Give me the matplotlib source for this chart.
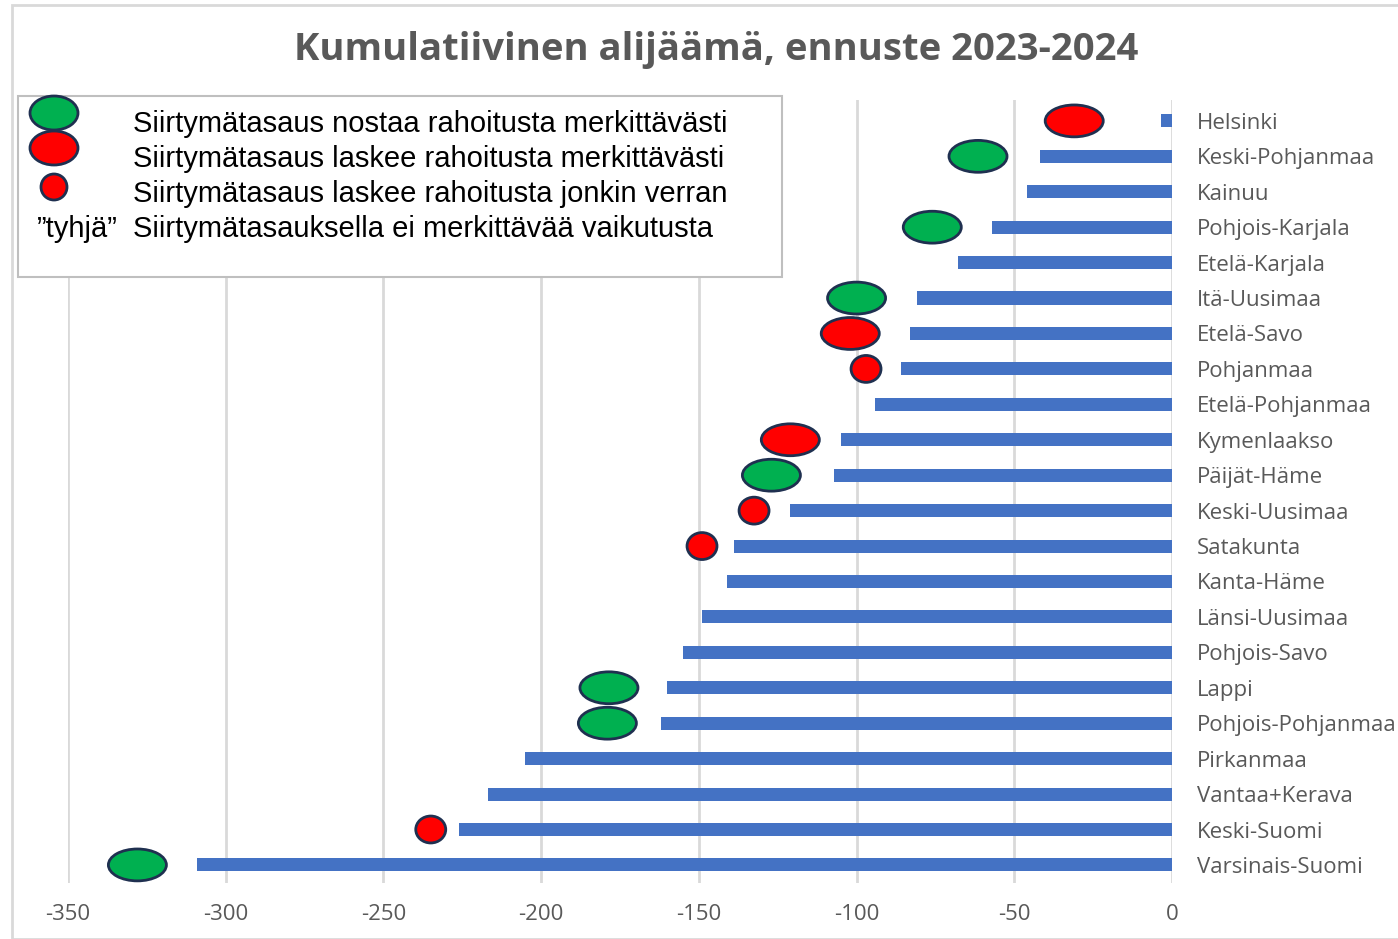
import matplotlib
matplotlib.use("Agg")
import matplotlib.pyplot as plt
from matplotlib.patches import Ellipse, Rectangle

# data
regions = [
    "Helsinki", "Keski-Pohjanmaa", "Kainuu", "Pohjois-Karjala", "Etelä-Karjala",
    "Itä-Uusimaa", "Etelä-Savo", "Pohjanmaa", "Etelä-Pohjanmaa", "Kymenlaakso",
    "Päijät-Häme", "Keski-Uusimaa", "Satakunta", "Kanta-Häme", "Länsi-Uusimaa",
    "Pohjois-Savo", "Lappi", "Pohjois-Pohjanmaa", "Pirkanmaa", "Vantaa+Kerava",
    "Keski-Suomi", "Varsinais-Suomi",
]
deficit = [
    -3.5, -42, -46, -57, -68, -81, -83, -86, -94, -105, -107, -121,
    -139, -141, -149, -155, -160, -162, -205, -217, -226, -309,
]
x_ticks = [-350, -300, -250, -200, -150, -100, -50, 0]

# siirtymätasaus markers: region, x-position, type
marker_region = [
    "Helsinki", "Keski-Pohjanmaa", "Pohjois-Karjala", "Itä-Uusimaa", "Etelä-Savo",
    "Pohjanmaa", "Kymenlaakso", "Päijät-Häme", "Keski-Uusimaa", "Satakunta",
    "Lappi", "Pohjois-Pohjanmaa", "Keski-Suomi", "Varsinais-Suomi",
]
marker_x = [-31, -61.5, -76, -100, -102, -97, -121, -127, -132.5, -149, -178.5, -179, -235, -328]
marker_type = ["down", "up", "up", "up", "down", "some", "down", "up", "some", "some",
               "up", "up", "some", "up"]

legend_text = [
    "Siirtymätasaus nostaa rahoitusta merkittävästi",
    "Siirtymätasaus laskee rahoitusta merkittävästi",
    "Siirtymätasaus laskee rahoitusta jonkin verran",
    "Siirtymätasauksella ei merkittävää vaikutusta",
]

GREEN = "#00B050"
RED = "#FF0000"
EDGE = "#1F3050"
GRID = "#D9D9D9"
TXT = "#595959"
W, H = 1398, 939

styles = {
    "up": (GREEN, 18.4, 0.90),
    "down": (RED, 18.4, 0.90),
    "some": (RED, 9.5, 0.76),
}

fig = plt.figure(figsize=(W / 100, H / 100), dpi=100)

# chart area border
fig.patches.append(Rectangle((12 / W, 0), 1.2, 1 - 5 / H, transform=fig.transFigure,
                             fill=False, edgecolor=GRID, lw=2))

ax = fig.add_axes([68 / W, 1 - 883 / H, (1172 - 68) / W, (883 - 100) / H])
y = list(range(len(regions)))
ax.barh(y, deficit, height=0.37, color="#4472C4", zorder=2)

for name, xv, kind in zip(marker_region, marker_x, marker_type):
    col, ew, eh = styles[kind]
    ax.add_patch(Ellipse((xv, regions.index(name)), ew, eh, facecolor=col,
                         edgecolor=EDGE, lw=2, zorder=3))

ax.set_xlim(-350, 0)
ax.set_ylim(len(regions) - 1 + 0.51, -0.59)
ax.set_xticks(x_ticks)
ax.set_xticklabels([str(v) for v in x_ticks], fontsize=16, color=TXT, family="Open Sans")
ax.set_yticks(y)
ax.set_yticklabels(regions, fontsize=16, color=TXT, family="Open Sans")
ax.yaxis.tick_right()
ax.tick_params(axis="y", length=0, pad=18)
ax.tick_params(axis="x", length=0, pad=15)
ax.grid(axis="x", color=GRID, lw=2, zorder=0)
for s in ax.spines.values():
    s.set_visible(False)

fig.text(716 / W, 1 - 50 / H, "Kumulatiivinen alijäämä, ennuste 2023-2024",
         ha="center", va="center", fontsize=27.5, fontweight="bold", color=TXT,
         family="Open Sans")

# legend box
fig.patches.append(Rectangle((18 / W, 1 - 277 / H), (782 - 18) / W, (277 - 96) / H,
                             transform=fig.transFigure, facecolor="white",
                             edgecolor="#BFBFBF", lw=1.5, zorder=5))
leg_y = [124, 159, 194, 229]
leg_marks = [(54, 113, GREEN, 48, 34), (54, 148, RED, 48, 34), (54, 187, RED, 26, 26)]
for cx, cy, col, ew, eh in leg_marks:
    fig.patches.append(Ellipse((cx / W, 1 - cy / H), ew / W, eh / H,
                               transform=fig.transFigure, facecolor=col,
                               edgecolor=EDGE, lw=2, zorder=6))
for ty, t in zip(leg_y, legend_text):
    fig.text(133 / W, 1 - ty / H, t, ha="left", va="center", fontsize=21,
             family="Liberation Sans", color="black", zorder=7)
fig.text(37 / W, 1 - 229 / H, "\u201dtyhjä\u201d", ha="left", va="center", fontsize=21,
         family="Liberation Sans", color="black", zorder=7)

fig.savefig("out.png", dpi=100)
